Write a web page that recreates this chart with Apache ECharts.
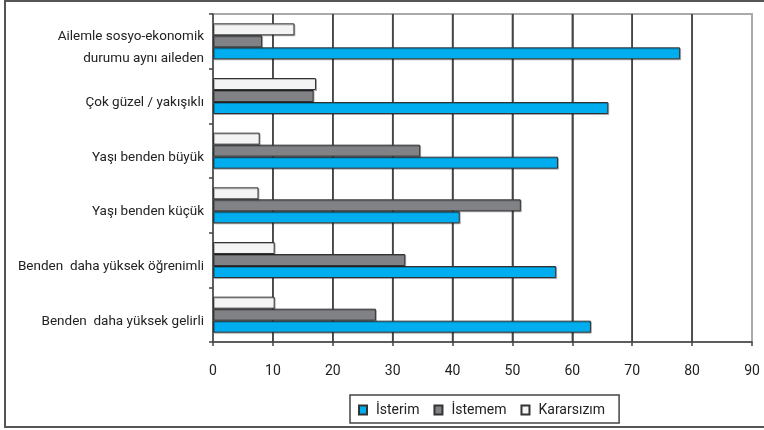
<!DOCTYPE html>
<html>
<head>
<meta charset="utf-8">
<script src="https://cdn.jsdelivr.net/npm/echarts@6/dist/echarts.min.js"></script>
<style>
html,body{margin:0;padding:0;background:#fff;}
#chart{width:764px;height:430px;}
</style>
</head>
<body>
<div id="chart"></div>
<script>
var categories = [
  'Ailemle sosyo-ekonomik\ndurumu aynı aileden',
  'Çok güzel / yakışıklı',
  'Yaşı benden büyük',
  'Yaşı benden küçük',
  'Benden  daha yüksek öğrenimli',
  'Benden  daha yüksek gelirli'
];
var seriesNames = ['İsterim', 'İstemem', 'Kararsızım'];
var isterim = [78, 66, 57.6, 41.2, 57.3, 63.1];
var istemem = [8.2, 16.8, 34.6, 51.4, 32.1, 27.2];
var kararsizim = [13.6, 17.2, 7.8, 7.6, 10.3, 10.3];
var xTicks = { min: 0, max: 90, interval: 10 };

var FONT = "Roboto, 'Noto Sans', sans-serif";
var colors = ['#00aeef', '#808285', '#f4f4f4'];
var values = [isterim, istemem, kararsizim];
// which grid each series uses: 1 = shifted down (bottom slot), 0 = main (middle), 2 = shifted up (top slot)
var seriesGrid = [1, 0, 2];

var gridValues = [];
for (var t = xTicks.min + xTicks.interval; t < xTicks.max; t += xTicks.interval) gridValues.push(t);

function rev(a) { return a.slice().reverse(); }

var chart = echarts.init(document.getElementById('chart'), null, {renderer: 'canvas'});

var grids = [
  { left: 213, top: 14, right: 12, bottom: 88, show: true, borderColor: '#aaa', borderWidth: 2 },
  { left: 213, top: 26, right: 12, bottom: 76, show: false },
  { left: 213, top: 2, right: 12, bottom: 100, show: false }
];

var xAxes = [0, 1, 2].map(function (g) {
  var main = g === 0;
  return {
    type: 'value', gridIndex: g,
    min: xTicks.min, max: xTicks.max, interval: xTicks.interval,
    show: main,
    axisLine: { show: main, lineStyle: { color: '#444', width: 1.5 } },
    axisTick: { show: main, length: 4, lineStyle: { color: '#444', width: 1.5 } },
    axisLabel: { show: main, fontFamily: FONT, fontSize: 14, color: '#222', margin: 22 },
    splitLine: { show: main, showMinLine: false, showMaxLine: false, lineStyle: { color: '#444', width: 1.5 } }
  };
});

var yAxes = [0, 1, 2].map(function (g) {
  var main = g === 0;
  return {
    type: 'category', gridIndex: g,
    data: rev(categories),
    inverse: false,
    show: main,
    axisLine: { show: main, lineStyle: { color: '#444', width: 1.5 } },
    axisTick: { show: main, length: 4, lineStyle: { color: '#444', width: 1.5 } },
    axisLabel: {
      show: main,
      margin: 9, align: 'right',
      formatter: function (v) {
        return '{s| }\n' + v.split('\n').map(function (l) { return '{a|' + l + '}'; }).join('\n');
      },
      rich: {
        s: { fontSize: 1, lineHeight: 13 },
        a: { fontFamily: FONT, fontSize: 13.5, color: '#222', lineHeight: 22, align: 'right' }
      }
    },
    splitLine: { show: false }
  };
});

var series = [{
  name: 'gridlines',
  type: 'custom',
  xAxisIndex: 0, yAxisIndex: 0,
  silent: true,
  z: 1,
  animation: false,
  data: gridValues.map(function (v) { return [v, 0]; }),
  encode: { x: 0, y: 1 },
  renderItem: function (params, api) {
    var cs = params.coordSys;
    var p = api.coord([api.value(0), 0]);
    return {
      type: 'rect',
      shape: { x: p[0] - 0.75, y: cs.y, width: 1.5, height: cs.height },
      style: { fill: '#444' }
    };
  }
}];

seriesNames.forEach(function (name, i) {
  series.push({
    name: name,
    type: 'bar',
    xAxisIndex: seriesGrid[i], yAxisIndex: seriesGrid[i],
    data: rev(values[i]),
    barWidth: 12,
    z: 5,
    clip: false,
    itemStyle: {
      color: colors[i],
      borderColor: '#333',
      borderWidth: 1,
      shadowColor: 'rgba(0,0,0,0.25)',
      shadowOffsetX: 1,
      shadowOffsetY: 1,
      shadowBlur: 0
    },
    emphasis: { disabled: true },
    animation: false
  });
});

chart.setOption({
  animation: false,
  textStyle: { fontFamily: FONT },
  graphic: [{
    type: 'rect',
    shape: { x: 5, y: 1, width: 800, height: 426 },
    style: { fill: 'none', stroke: '#555', lineWidth: 2 },
    z: -10, silent: true
  }],
  grid: grids,
  legend: {
    data: seriesNames,
    left: 350, top: 395, width: 261, height: 29,
    orient: 'horizontal',
    padding: [8, 14, 6, 8],
    itemGap: 14,
    itemWidth: 8, itemHeight: 9,
    borderColor: '#444', borderWidth: 1.5,
    icon: 'rect',
    textStyle: { fontFamily: FONT, fontSize: 14, color: '#222', padding: [0,0,0,4] },
    selectedMode: false
  },
  xAxis: xAxes,
  yAxis: yAxes,
  series: series
});
</script>
</body>
</html>
